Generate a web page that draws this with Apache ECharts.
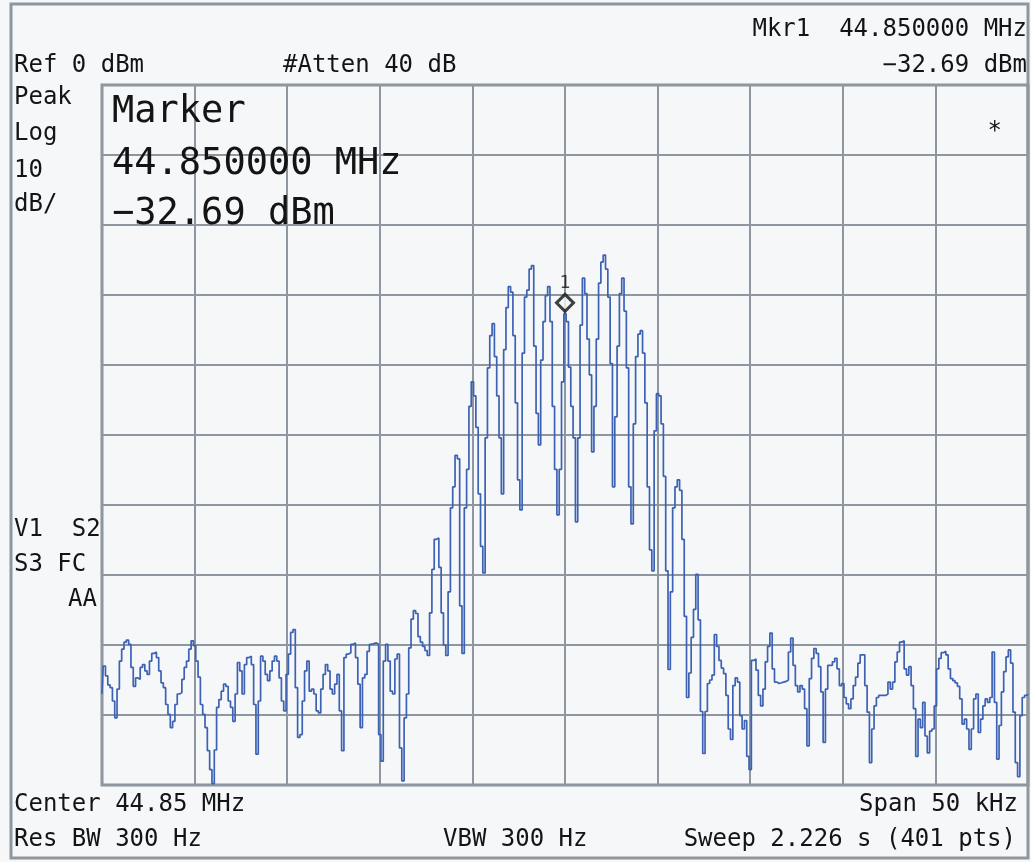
<!DOCTYPE html>
<html>
<head>
<meta charset="utf-8">
<script src="https://cdn.jsdelivr.net/npm/echarts@6/dist/echarts.min.js"></script>
<style>
html,body{margin:0;padding:0;background:#f5f7f9;}
#chart{width:1031px;height:862px;}
</style>
</head>
<body>
<div id="chart"></div>
<script>
// Sweep settings: center 44.85 MHz, span 50 kHz, 401 points (x in kHz offset from center)
const spanStartKHz = -25;
const spanStopKHz = 25;
const pointCount = 401;
const refLevel = 0;
const dbPerDiv = 10;

// Trace levels (dBm), 401 points
const traceLevels = [
-87.0,-83.0,-84.4,-85.7,-86.1,-88.0,-90.4,-86.3,-82.3,-80.6,
-79.6,-79.3,-79.9,-83.2,-85.9,-84.7,-84.9,-83.2,-82.8,-83.7,
-84.2,-82.3,-81.2,-81.0,-81.8,-83.7,-85.4,-86.1,-88.5,-89.9,
-91.8,-90.9,-88.5,-87.0,-86.8,-84.9,-83.2,-82.3,-80.6,-79.4,
-80.1,-82.3,-84.6,-88.5,-89.9,-91.8,-95.1,-97.8,-99.8,-95.0,
-88.9,-87.8,-86.6,-85.6,-85.9,-88.0,-88.9,-90.9,-87.0,-82.5,
-83.7,-87.0,-82.8,-81.8,-81.6,-82.8,-88.5,-95.6,-88.0,-81.6,
-82.3,-84.2,-85.1,-83.7,-82.3,-81.6,-82.3,-84.7,-88.0,-89.4,
-84.2,-81.3,-78.2,-77.8,-86.1,-93.2,-92.8,-88.0,-83.7,-82.3,
-86.6,-86.3,-87.0,-89.4,-89.7,-86.3,-84.2,-82.8,-83.7,-86.3,
-87.0,-85.6,-84.2,-89.4,-95.1,-81.8,-81.3,-81.1,-79.9,-79.7,
-81.8,-85.6,-91.8,-84.7,-84.2,-80.9,-79.9,-79.8,-79.7,-79.9,
-92.8,-96.6,-82.3,-79.9,-82.3,-86.6,-87.0,-82.0,-81.3,-94.7,
-99.4,-90.4,-87.0,-80.4,-76.3,-75.1,-75.5,-78.8,-79.6,-80.2,
-80.8,-81.5,-75.4,-69.2,-64.9,-64.7,-68.9,-75.4,-80.0,-81.5,
-72.4,-60.4,-57.4,-52.9,-53.4,-74.4,-81.2,-60.4,-54.9,-45.9,
-42.4,-44.4,-48.9,-58.4,-65.9,-69.7,-50.4,-40.4,-35.8,-34.1,
-38.8,-44.4,-50.4,-58.4,-37.8,-31.8,-28.8,-29.6,-35.8,-45.4,
-56.4,-60.7,-38.3,-30.3,-29.3,-26.3,-25.8,-37.3,-46.9,-51.4,
-39.3,-33.8,-30.1,-28.8,-33.8,-45.9,-54.9,-61.4,-54.9,-42.4,
-32.69,-33.8,-40.3,-45.9,-50.4,-62.4,-50.4,-34.3,-27.6,-29.8,
-36.3,-41.4,-52.4,-45.9,-36.3,-28.3,-25.3,-24.3,-26.3,-30.3,
-39.8,-57.4,-47.4,-37.3,-29.8,-27.6,-32.3,-40.4,-57.4,-62.7,
-48.4,-38.8,-35.6,-35.1,-38.3,-45.4,-57.4,-66.4,-69.4,-49.4,
-44.1,-44.4,-48.4,-55.9,-69.4,-83.5,-72.4,-60.4,-57.4,-56.4,
-57.9,-64.9,-75.9,-87.5,-84.0,-78.9,-74.9,-69.9,-76.4,-89.5,
-95.5,-89.5,-85.5,-85.0,-84.3,-78.5,-80.2,-82.2,-83.3,-84.1,
-87.2,-92.0,-93.5,-85.8,-84.7,-85.3,-90.1,-92.0,-90.8,-95.9,
-97.8,-82.2,-82.0,-83.6,-87.2,-88.7,-86.3,-82.4,-80.2,-78.3,
-83.4,-85.3,-85.5,-85.4,-85.3,-85.2,-85.0,-81.0,-79.0,-82.9,
-85.8,-86.7,-85.8,-86.3,-89.1,-94.4,-84.8,-81.9,-80.5,-81.2,
-83.1,-86.7,-93.9,-86.3,-82.9,-82.9,-82.4,-81.9,-83.4,-85.8,
-85.5,-87.5,-88.4,-89.1,-87.7,-85.8,-84.6,-82.6,-81.4,-81.4,
-85.8,-89.6,-96.8,-92.0,-88.7,-87.5,-87.2,-87.2,-87.2,-87.0,
-85.3,-86.3,-85.3,-82.4,-81.0,-79.6,-79.4,-83.4,-84.3,-83.1,
-85.8,-89.1,-95.9,-90.6,-91.8,-88.2,-93.0,-95.4,-92.3,-92.0,
-88.7,-83.4,-81.9,-81.1,-80.9,-81.4,-83.4,-84.8,-85.1,-85.4,
-85.9,-87.7,-91.3,-90.6,-92.0,-94.9,-92.0,-87.7,-87.0,-92.5,
-90.6,-88.7,-87.7,-88.2,-87.5,-81.0,-88.2,-96.3,-91.5,-86.7,
-83.8,-81.7,-80.7,-82.6,-89.6,-96.8,-98.8,-90.1,-87.5,-87.2,
-87.0
];

// Marker 1
const markerFreqKHz = [0];
const markerLevel = [-32.69];
const markerNames = ['1'];

// Annotation texts
const topLeft = ['Ref 0 dBm'];
const attenText = ['#Atten 40 dB'];
const mkrHeader = ['Mkr1  44.850000 MHz', '-32.69 dBm'];
const leftTop = ['Peak', 'Log', '10', 'dB/'];
const leftMid = ['V1  S2', 'S3 FC', 'AA'];
const markerBig = ['Marker', '44.850000 MHz', '-32.69 dBm'];
const bottomLeft = ['Center 44.85 MHz', 'Res BW 300 Hz'];
const bottomMid = ['VBW 300 Hz'];
const bottomRight = ['Span 50 kHz', 'Sweep 2.226 s (401 pts)'];

const step = (spanStopKHz - spanStartKHz) / (pointCount - 1);
const traceData = traceLevels.map((v, i) => [spanStartKHz + i * step, v]);
const markerData = markerFreqKHz.map((f, i) => [f, markerLevel[i]]);

const FONT = '"DejaVu Sans Mono", "Liberation Mono", monospace';
const small = '24px ' + FONT;
const big = '37px ' + FONT;
const ink = '#141414';

function txt(text, x, y, font, align) {
  return {type: 'text', z: 100, style: {text: text.replace(/^-/, '\u2212').replace(/ -/, ' \u2212'), x: x, y: y, font: font, fill: ink, textAlign: align || 'left', textVerticalAlign: 'middle'}};
}

const graphics = [
  {type: 'rect', z: 0, shape: {x: 11, y: 4, width: 1017, height: 854}, style: {fill: 'none', stroke: '#8e979e', lineWidth: 3}},
  txt(topLeft[0], 14, 66, small),
  txt(attenText[0], 283, 66, small),
  txt(mkrHeader[0], 1027, 30, small, 'right'),
  txt(mkrHeader[1], 1027, 66, small, 'right'),
  txt(leftTop[0], 14, 98, small),
  txt(leftTop[1], 14, 134, small),
  txt(leftTop[2], 14, 171, small),
  txt(leftTop[3], 14, 205, small),
  txt(leftMid[0], 14, 530, small),
  txt(leftMid[1], 14, 565, small),
  txt(leftMid[2], 97, 600, small, 'right'),
  txt(markerBig[0], 112, 112, big),
  txt(markerBig[1], 112, 164, big),
  txt(markerBig[2], 112, 214, big),
  txt('*', 1002, 132, small, 'right'),
  txt(bottomLeft[0], 14, 805, small),
  txt(bottomLeft[1], 14, 840, small),
  txt(bottomMid[0], 443, 840, small),
  txt(bottomRight[0], 1018, 805, small, 'right'),
  txt(bottomRight[1], 1016, 840, small, 'right')
];

const chart = echarts.init(document.getElementById('chart'), null, {renderer: 'canvas'});
chart.setOption({
  backgroundColor: '#f5f7f9',
  animation: false,
  grid: {left: 102, top: 85, width: 926, height: 700, show: true, borderColor: '#8a939a', borderWidth: 3, backgroundColor: 'transparent'},
  xAxis: {
    type: 'value', min: spanStartKHz, max: spanStopKHz, interval: 5,
    axisLabel: {show: false}, axisTick: {show: false}, axisLine: {show: false},
    splitLine: {show: true, lineStyle: {color: '#8e979f', width: 2}}
  },
  yAxis: {
    type: 'value', min: refLevel - 10 * dbPerDiv, max: refLevel, interval: dbPerDiv,
    axisLabel: {show: false}, axisTick: {show: false}, axisLine: {show: false},
    splitLine: {show: true, lineStyle: {color: '#8e979f', width: 2}}
  },
  series: [
    {
      type: 'line', data: traceData, showSymbol: false, step: 'middle',
      lineStyle: {color: '#3d62b3', width: 1.7}, z: 3, silent: true, clip: true
    },
    {
      type: 'scatter', data: markerData, symbol: 'diamond', symbolSize: [17, 17], symbolOffset: [0, -11],
      itemStyle: {color: '#f5f7f9', borderColor: '#111', borderWidth: 3}, z: 5,
      label: {show: true, position: 'top', distance: 1, formatter: (p) => markerNames[p.dataIndex], color: '#111', fontSize: 18, fontFamily: FONT}
    }
  ],
  graphic: graphics
});
</script>
</body>
</html>
